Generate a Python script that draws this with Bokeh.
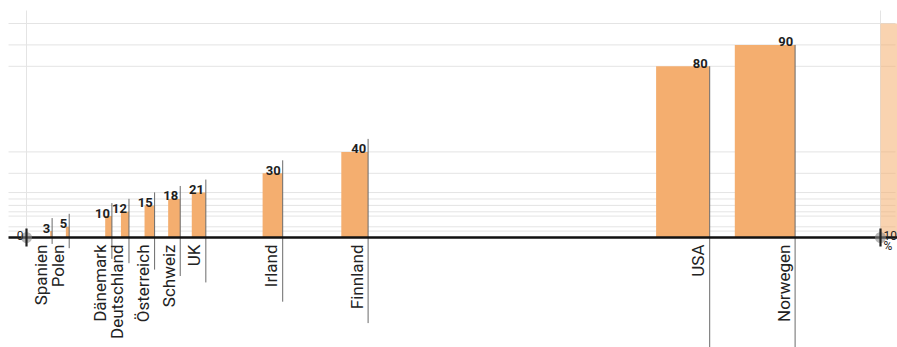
import math
from bokeh.plotting import figure
from bokeh.models import Range1d, ColumnDataSource
from bokeh.core.properties import value
from bokeh.embed import file_html
from bokeh.resources import INLINE

# ---- data ----
countries = ["Spanien", "Polen", "Dänemark", "Deutschland", "Österreich",
             "Schweiz", "UK", "Irland", "Finnland", "USA", "Norwegen"]
values = [3, 5, 10, 12, 15, 18, 21, 30, 40, 80, 90]
ref_value = 100
ref_label = "100"
ref_unit = "%"
zero_label = "0"

# ---- layout constants (pixels) ----
W, H = 897, 347
X0_PX, SX = 26.0, 8.54      # px of 0 %, px per %
Y0_PX, SY = 237.0, 2.14     # px of baseline, px per unit of height
BAR_W_PX_PER_UNIT = 0.67    # bar width grows with its value

def px_x(d):
    return d / SX

def px_y(d):
    return d / SY

x_start = -X0_PX / SX
x_end = x_start + W / SX
y_start = -(H - Y0_PX) / SY
y_end = Y0_PX / SY

p = figure(width=W, height=H, x_range=Range1d(x_start, x_end),
           y_range=Range1d(y_start, y_end), min_border=0,
           toolbar_location=None, output_backend="svg",
           x_axis_location=None, y_axis_location=None)
p.outline_line_color = None
p.xgrid.visible = False
p.ygrid.visible = False
p.background_fill_color = "white"
p.border_fill_color = "white"

ORANGE = "#F4AE6F"
FONT = value("Roboto")

all_vals = values + [ref_value]
# horizontal guide lines at every bar height
p.segment(x0=[x_start + px_x(8)] * len(all_vals), x1=[x_end - px_x(2)] * len(all_vals),
          y0=all_vals, y1=all_vals, line_color="#e4e4e4", line_width=1)
# faint vertical guides at 0 and 100
p.segment(x0=[0, ref_value], x1=[0, ref_value], y0=[0, 0],
          y1=[y_end - px_y(10)] * 2, line_color="#e4e4e4", line_width=1)

# reference 100 bar (faded)
p.quad(left=[ref_value], right=[ref_value + px_x(BAR_W_PX_PER_UNIT * ref_value)],
       bottom=[0], top=[ref_value], fill_color=ORANGE, fill_alpha=0.55, line_color=None)

# bars
src = ColumnDataSource(dict(
    left=[v - px_x(BAR_W_PX_PER_UNIT * v) for v in values],
    right=values,
    top=values,
    bottom=[0] * len(values),
    name=countries,
    lab=[str(v) for v in values],
    line_top=[v + (px_y(13) if v < 50 else 0) for v in values],
    line_bot=[-v for v in values],
    lab_x=[v - px_x(2) for v in values],
    lab_y=[v + px_y(3) for v in values],
    name_x=[v - px_x(1.5) for v in values],
    name_y=[-px_y(7)] * len(values),
))
p.quad(left="left", right="right", bottom="bottom", top="top", source=src,
       fill_color=ORANGE, line_color=None)

# leader lines
p.segment(x0="right", x1="right", y0="line_bot", y1="line_top", source=src,
          line_color="#6a6a6a", line_width=1)

# axis
p.segment(x0=[x_start + px_x(8)], x1=[x_end], y0=[0], y1=[0],
          line_color="#111111", line_width=2.5)

# markers at 0 and 100
p.scatter(x=[0, ref_value], y=[0, 0], size=11, fill_color="#888888",
          fill_alpha=0.6, line_color=None)
p.segment(x0=[0, ref_value], x1=[0, ref_value], y0=[px_y(9)] * 2, y1=[-px_y(9)] * 2,
          line_color="#222222", line_width=2.2)

# value labels
p.text(x="lab_x", y="lab_y", text="lab", source=src, text_align="right",
       text_baseline="alphabetic", text_font=FONT, text_font_size="13px",
       text_font_style="bold", text_color="#1e1e1e")

# country labels (rotated)
p.text(x="name_x", y="name_y", text="name", source=src, angle=math.pi / 2,
       text_align="right", text_baseline="bottom", text_font=FONT,
       text_font_size="17px", text_color="#222222")

# 0 and 100 % labels
p.text(x=[-px_x(3)], y=[px_y(2)], text=[zero_label], text_align="right",
       text_baseline="alphabetic", text_font=FONT, text_font_size="12px",
       text_color="#222222")
p.text(x=[ref_value + px_x(3)], y=[px_y(2)], text=[ref_label], text_align="left",
       text_baseline="alphabetic", text_font=FONT, text_font_size="12px",
       text_color="#222222")
p.text(x=[ref_value + px_x(3)], y=[-px_y(1)], text=[ref_unit], text_align="left",
       text_baseline="top", text_font=FONT, text_font_size="12px",
       text_color="#222222")

open("out.html", "w").write(file_html(p, INLINE))
